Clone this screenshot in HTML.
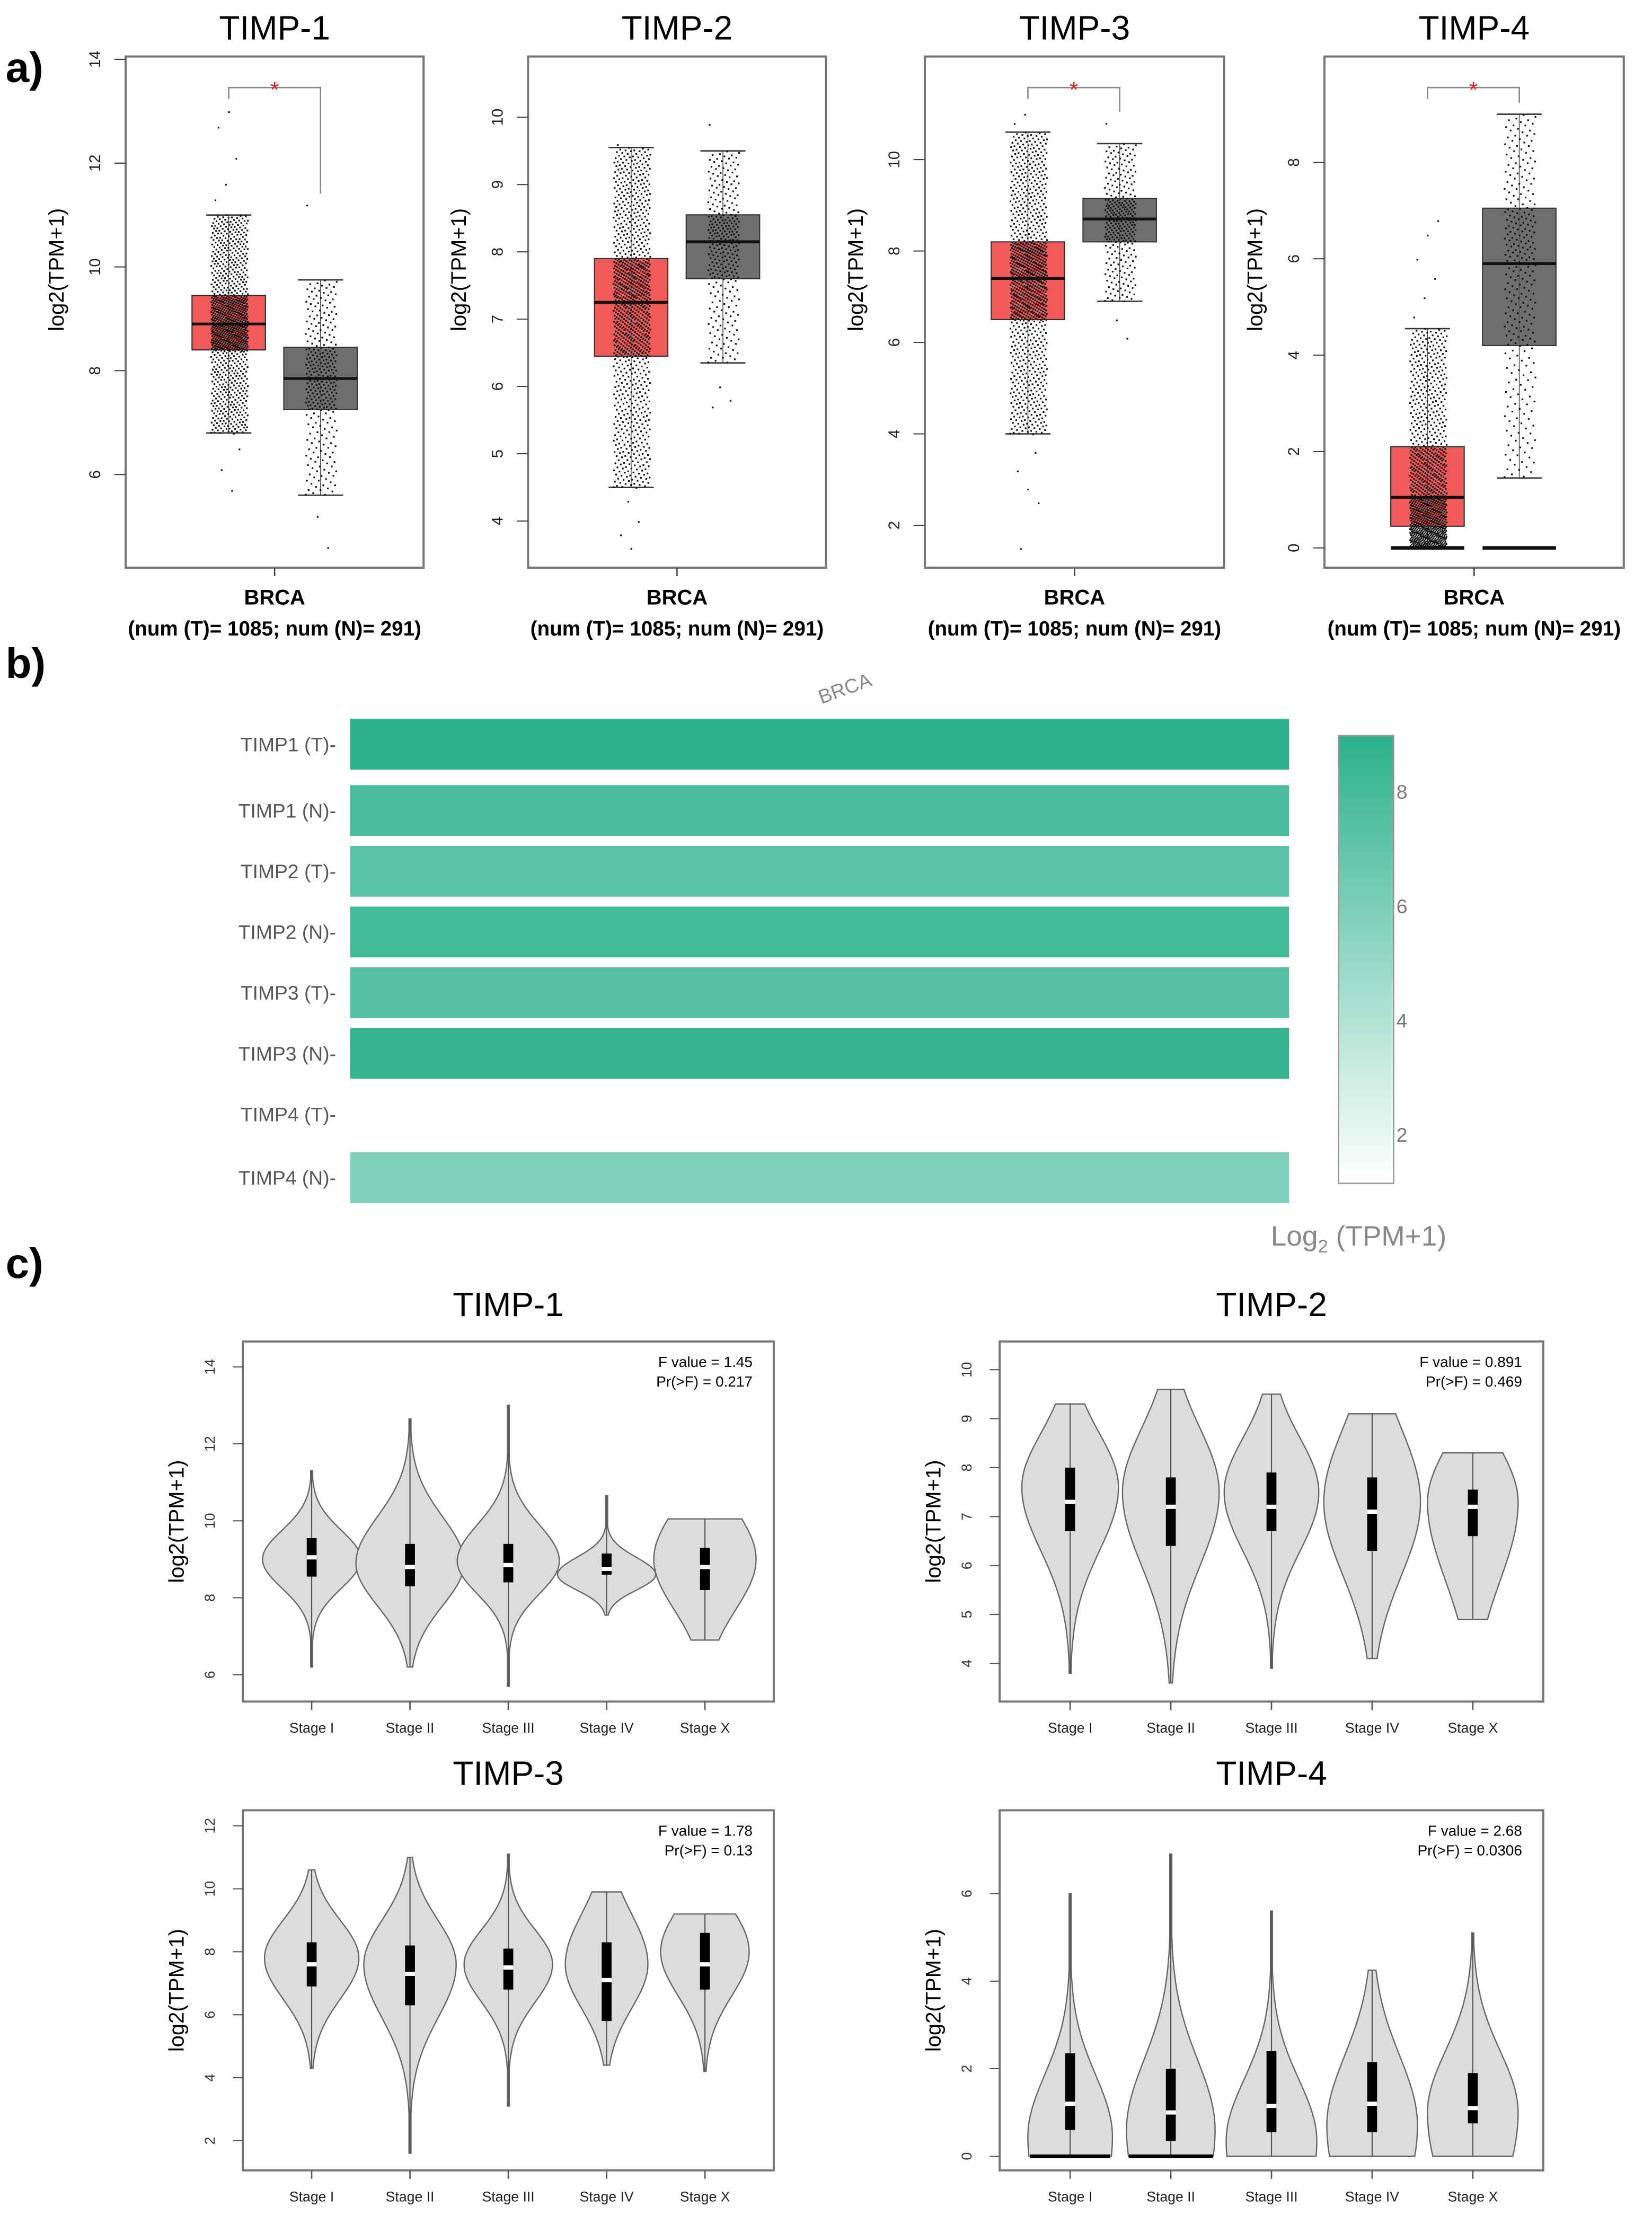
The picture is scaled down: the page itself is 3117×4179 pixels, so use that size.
<!DOCTYPE html>
<html><head><meta charset="utf-8"><style>
html,body{margin:0;padding:0;background:#fff}
svg{display:block}
text{font-family:"Liberation Sans",sans-serif}
</style></head><body>
<svg id="fig" xmlns="http://www.w3.org/2000/svg" width="3117" height="4179" viewBox="0 0 1170 1568.6">
<rect width="1170" height="1568.6" fill="#fff"/>
<text x="4" y="58" font-size="30" font-weight="bold">a)</text>
<text x="4" y="480" font-size="30" font-weight="bold">b)</text>
<text x="4" y="905" font-size="30" font-weight="bold">c)</text>
<g id="boxes"></g><g id="heat"></g><g id="violins"></g>
</svg>
<script>
const NS="http://www.w3.org/2000/svg";
// ---------- panel a data ----------
const boxGenes=["TIMP-1","TIMP-2","TIMP-3","TIMP-4"];
const boxTicks=[[6,8,10,12,14],[4,5,6,7,8,9,10],[2,4,6,8,10],[0,2,4,6,8]];
const boxAxisLo=[6,4,2,0];
const boxAxisHi=[14,10,10,8];
// [whiskerLow, q1, median, q3, whiskerHigh]
const tumorStats=[[6.8,8.4,8.9,9.45,11.0],[4.5,6.45,7.25,7.9,9.55],[4.0,6.5,7.4,8.2,10.6],[0,0.45,1.05,2.1,4.55]];
const normalStats=[[5.6,7.25,7.85,8.45,9.75],[6.35,7.6,8.15,8.55,9.5],[6.9,8.2,8.7,9.15,10.35],[1.45,4.2,5.9,7.05,9.0]];
const tumorOutHi=[[11.3,11.6,12.1,12.7,13.0],[9.6],[10.8,11.0],[4.8,5.2,5.6,6.0,6.5,6.8]];
const tumorOutLo=[[6.5,6.1,5.7],[4.3,4.0,3.8,3.6],[3.6,3.2,2.8,2.5,1.5],[]];
const normalOutHi=[[11.2],[9.9],[10.8],[]];
const normalOutLo=[[5.2,4.6],[6.0,5.8,5.7],[6.5,6.1],[0]];
const sig=[true,false,true,true];
// ---------- panel b data ----------
const heatRows=["TIMP1 (T)","TIMP1 (N)","TIMP2 (T)","TIMP2 (N)","TIMP3 (T)","TIMP3 (N)","TIMP4 (T)","TIMP4 (N)"];
const heatVals=[8.9,7.9,7.2,8.1,7.4,8.7,1.05,5.9];
const cbarTicks=[2,4,6,8];
// ---------- panel c data ----------
const stages=["Stage I","Stage II","Stage III","Stage IV","Stage X"];
const vGenes=["TIMP-1","TIMP-2","TIMP-3","TIMP-4"];
const vTicks=[[6,8,10,12,14],[4,5,6,7,8,9,10],[2,4,6,8,10,12],[0,2,4,6]];
const vFval=["1.45","0.891","1.78","2.68"];
const vPval=["0.217","0.469","0.13","0.0306"];
const vMin=[[6.2,6.2,5.7,7.55,6.9],[3.8,3.6,3.9,4.1,4.9],[4.3,1.6,3.1,4.4,4.2],[0,0,0,0,0]];
const vMax=[[11.3,12.65,13.0,10.65,10.05],[9.3,9.6,9.5,9.1,8.3],[10.6,11.0,11.1,9.9,9.2],[6.0,6.9,5.6,4.25,5.1]];
const vMode=[[9.0,8.9,8.95,8.6,9.0],[7.6,7.5,7.5,7.3,7.3],[7.8,7.6,7.6,7.6,8.0],[0.45,0.6,0.35,0.7,1.0]];
const vWidth=[[0.5,0.55,0.52,0.5,0.52],[0.48,0.48,0.47,0.48,0.45],[0.48,0.47,0.45,0.42,0.45],[0.42,0.44,0.45,0.45,0.45]];
const vSigUp=[[0.75,1.2,0.95,0.45,1.3],[1.1,1.3,1.1,1.5,1.1],[1.2,1.4,1.1,1.6,1.4],[1.4,1.6,1.4,1.6,1.4]];
const vSigDn=[[0.75,1.1,0.85,0.4,1.3],[1.3,1.5,1.2,1.5,1.6],[1.3,1.7,1.2,1.4,1.4],[2.0,2.0,2.0,2.0,2.0]];
const vQ1=[[8.55,8.3,8.4,8.6,8.2],[6.7,6.4,6.7,6.3,6.6],[6.9,6.3,6.8,5.8,6.8],[0.6,0.35,0.55,0.55,0.75]];
const vMed=[[9.05,8.8,8.85,8.75,8.8],[7.3,7.2,7.2,7.1,7.2],[7.6,7.3,7.5,7.1,7.6],[1.2,1.0,1.15,1.2,1.1]];
const vQ3=[[9.55,9.4,9.4,9.15,9.3],[8.0,7.8,7.9,7.8,7.55],[8.3,8.2,8.1,8.3,8.6],[2.35,2.0,2.4,2.15,1.9]];

function el(tag,attrs,parent,txt){const e=document.createElementNS(NS,tag);for(const k in attrs)e.setAttribute(k,attrs[k]);if(txt!==undefined)e.textContent=txt;parent.appendChild(e);return e;}

// ---------- panel a ----------
const bFrames=[[89,300],[374,585],[655,867],[938,1150]];
const bTop=40,bBot=402;
const boxTickPx=[[336,42],[369,83],[372,113],[388,115]];
const gB=document.getElementById('boxes');
function quant(st,u){const qs=[0,0.25,0.5,0.75,1];for(let k=0;k<4;k++){if(u<=qs[k+1]){const f=(u-qs[k])/0.25;return st[k]+f*(st[k+1]-st[k]);}}return st[4];}
boxGenes.forEach((g,i)=>{
  const [x0,x1]=bFrames[i];
  const lo=boxAxisLo[i],hi=boxAxisHi[i];
  const [p0,p1]=boxTickPx[i];
  const y=v=>p0+(v-lo)*(p1-p0)/(hi-lo);
  const grp=el('g',{},gB);
  
  
  const t=el('text',{x:(x0+x1)/2,y:28,'font-size':24,'text-anchor':'middle'},grp,g);
  
  const fr=el('rect',{x:x0,y:bTop,width:x1-x0,height:bBot-bTop,fill:'none',stroke:'#777','stroke-width':1.5},grp);
  
  boxTicks[i].forEach(v=>{
    el('line',{x1:x0-8,x2:x0,y1:y(v),y2:y(v),stroke:'#444','stroke-width':0.8},grp);
    const tl=el('text',{x:x0-18,y:y(v),'font-size':11,'text-anchor':'middle',transform:`rotate(-90 ${x0-18} ${y(v)})`,fill:'#222'},grp,String(v));
    
  });
  const yt=el('text',{x:x0-44,y:(bTop+bBot)/2-30,'font-size':15,'text-anchor':'middle',transform:`rotate(-90 ${x0-44} ${(bTop+bBot)/2-30})`},grp,'log2(TPM+1)');
  
  const cx=(x0+x1)/2;
  el('line',{x1:cx,x2:cx,y1:bBot,y2:bBot+6,stroke:'#444'},grp);
  const xl=el('text',{x:cx,y:428,'font-size':15,'font-weight':'bold','text-anchor':'middle'},grp,'BRCA');
  
  const xs=el('text',{x:cx,y:450,'font-size':14.5,'font-weight':'bold','text-anchor':'middle'},grp,'(num (T)= 1085; num (N)= 291)');
  
  const cT=x0+73,cN=x0+138;
  [[tumorStats[i],cT,'#f05a5a','tumor',tumorOutHi[i],tumorOutLo[i],1000],[normalStats[i],cN,'#6e6e6e','normal',normalOutHi[i],normalOutLo[i],290]].forEach(([st,c,col,nm,oh,ol,n])=>{
    const b=el('rect',{x:c-26,y:y(st[3]),width:52,height:y(st[1])-y(st[3]),fill:col,stroke:'#333','stroke-width':0.8},grp);
    
    el('line',{x1:c,x2:c,y1:y(st[4]),y2:y(st[0]),stroke:'#555','stroke-width':0.6},grp);
    [st[0],st[4]].forEach(v=>el('line',{x1:c-16,x2:c+16,y1:y(v),y2:y(v),stroke:'#333','stroke-width':1},grp));
    let d='';
    for(let k=0;k<n;k++){const u=(k+0.5)/n;const v=quant(st,u);const jx=((k*0.6180339)%1-0.5)*2*(nm==='tumor'?13:11);const py=y(v)+(((k*0.7548)%1)-0.5)*1.2;d+=`M${(c+jx).toFixed(2)} ${py.toFixed(2)}h1.2v1.2h-1.2z`;}
    oh.concat(ol).forEach((v,k)=>{const jx=((k*0.37)%1-0.5)*20;d+=`M${(c+jx).toFixed(2)} ${y(v).toFixed(2)}h1.2v1.2h-1.2z`;});
    const pts=el('path',{d:d,fill:'#111'},grp);
    
    el('line',{x1:c-26,x2:c+26,y1:y(st[2]),y2:y(st[2]),stroke:'#111','stroke-width':2},grp);
    if(i===3){el('line',{x1:c-26,x2:c+26,y1:y(0),y2:y(0),stroke:'#111','stroke-width':2.5},grp);}
  });
  if(sig[i]){
    const lh=Math.max(...tumorOutHi[i],tumorStats[i][4]);const rh=Math.max(...normalOutHi[i],normalStats[i][4]);
    const yl=Math.min(y(lh)-8,bTop+30),yr=y(rh)-8;
    el('path',{d:`M${cT} ${Math.max(yl,bTop+30)}V${bTop+22}H${cN}V${yr}`,fill:'none',stroke:'#888','stroke-width':1},grp);
    const s=el('text',{x:(cT+cN)/2,y:bTop+29,'font-size':16,'text-anchor':'middle',fill:'#e82020'},grp,'*');
    
  }
});

// ---------- panel b ----------
const gH=document.getElementById('heat');
const hx0=248,hx1=913,hRowY=[527,574,617,660,703,746,789,834],hH=36;
const cbTop=521,cbBot=838,cbLo=1.15,cbHi=8.98;
function heatCol(v){const t=Math.max(0,Math.min(1,(v-cbLo)/(cbHi-cbLo)));const r=Math.round(255+(43-255)*t),g=Math.round(255+(177-255)*t),b=Math.round(255+(139-255)*t);return `rgb(${r},${g},${b})`;}
const bl=el('text',{x:600,y:492,'font-size':14,fill:'#888','text-anchor':'middle',transform:'rotate(-20 600 492)'},gH,'BRCA');

heatRows.forEach((r,i)=>{
  const yc=hRowY[i];
  const rc=el('rect',{x:hx0,y:yc-hH/2,width:hx1-hx0,height:hH,fill:heatCol(heatVals[i])},gH);
  
  const lb=el('text',{x:238,y:yc+5,'font-size':14,fill:'#555','text-anchor':'end'},gH,r+'-');
  
});
const defs=el('defs',{},gH);
const lg=el('linearGradient',{id:'cb',x1:0,y1:1,x2:0,y2:0},defs);
el('stop',{offset:0,'stop-color':heatCol(cbLo)},lg);el('stop',{offset:1,'stop-color':heatCol(cbHi)},lg);
const cb=el('rect',{x:948,y:cbTop,width:39,height:cbBot-cbTop,fill:'url(#cb)',stroke:'#999','stroke-width':1},gH);

cbarTicks.forEach(v=>{const yy=cbBot-(v-cbLo)*(cbBot-cbTop)/(cbHi-cbLo);
  const tl=el('text',{x:989,y:yy+5,'font-size':14,fill:'#777'},gH,String(v));
  });
const ct=el('text',{x:900,y:882,'font-size':20,fill:'#888'},gH);

ct.innerHTML='Log<tspan font-size="13" dy="5">2</tspan><tspan dy="-5"> (TPM+1)</tspan>';

// ---------- panel c ----------
const gV=document.getElementById('violins');
const vFrames=[[172,548,950,1205],[708,1093,950,1205],[172,548,1282,1537],[708,1093,1282,1537]];
const vTickPx=[[1186,968],[1178,970],[1516,1293],[1527,1341]];
vGenes.forEach((g,i)=>{
  const [x0,x1,y0,y1]=vFrames[i];
  const tk=vTicks[i];const lo=tk[0],hi=tk[tk.length-1];const [p0,p1]=vTickPx[i];
  const y=v=>p0+(v-lo)*(p1-p0)/(hi-lo);
  const grp=el('g',{},gV);
  
  
  const t=el('text',{x:(x0+x1)/2,y:y0-18,'font-size':24,'text-anchor':'middle'},grp,g);
  
  const fr=el('rect',{x:x0,y:y0,width:x1-x0,height:y1-y0,fill:'none',stroke:'#777','stroke-width':1.5},grp);
  
  tk.forEach(v=>{el('line',{x1:x0-7,x2:x0,y1:y(v),y2:y(v),stroke:'#555','stroke-width':0.8},grp);
    const tl=el('text',{x:x0-20,y:y(v),'font-size':10,'text-anchor':'middle',fill:'#333',transform:`rotate(-90 ${x0-20} ${y(v)})`},grp,String(v));
    });
  const ym=(y0+y1)/2;
  const yt=el('text',{x:x0-42,y:ym,'font-size':15,'text-anchor':'middle',transform:`rotate(-90 ${x0-42} ${ym})`},grp,'log2(TPM+1)');
  
  const f1=el('text',{x:x1-15,y:y0+18,'font-size':10.5,'text-anchor':'end'},grp,'F value = '+vFval[i]);
  
  const f2=el('text',{x:x1-15,y:y0+32,'font-size':10.5,'text-anchor':'end'},grp,'Pr(>F) = '+vPval[i]);
  
  const sp=(x1-x0)/5.4;
  stages.forEach((s,j)=>{
    const cx=x0+sp*(0.7+j);
    el('line',{x1:cx,x2:cx,y1:y1,y2:y1+6,stroke:'#555'},grp);
    const sl=el('text',{x:cx,y:y1+22,'font-size':10,'text-anchor':'middle',fill:'#222'},grp,s);
    
    const mn=vMin[i][j],mx=vMax[i][j],md=vMode[i][j],W=vWidth[i][j]*sp;
    const N=60;let right=[],left=[];
    for(let k=0;k<=N;k++){const v=mn+(mx-mn)*k/N;const s2=v>md?vSigUp[i][j]:vSigDn[i][j];const w=Math.max(0.7,W*Math.exp(-0.5*((v-md)/s2)**2));right.push([cx+w,y(v)]);left.push([cx-w,y(v)]);}
    let d='M'+right.map(p=>p[0].toFixed(2)+' '+p[1].toFixed(2)).join('L')+'L'+left.reverse().map(p=>p[0].toFixed(2)+' '+p[1].toFixed(2)).join('L')+'Z';
    const vp=el('path',{d:d,fill:'#dcdcdc',stroke:'#666','stroke-width':0.9},grp);
    
    el('line',{x1:cx,x2:cx,y1:y(mn),y2:y(mx),stroke:'#555','stroke-width':0.8},grp);
    const bx=el('rect',{x:cx-3.5,y:y(vQ3[i][j]),width:7,height:y(vQ1[i][j])-y(vQ3[i][j]),fill:'#000'},grp);
    
    el('rect',{x:cx-3.5,y:y(vMed[i][j])-1.5,width:7,height:3,fill:'#fff'},grp);
    if(i===3&&j<2){el('line',{x1:cx-W*0.95,x2:cx+W*0.95,y1:y(0),y2:y(0),stroke:'#000','stroke-width':2.5},grp);}
  });
});
</script>
</body></html>
